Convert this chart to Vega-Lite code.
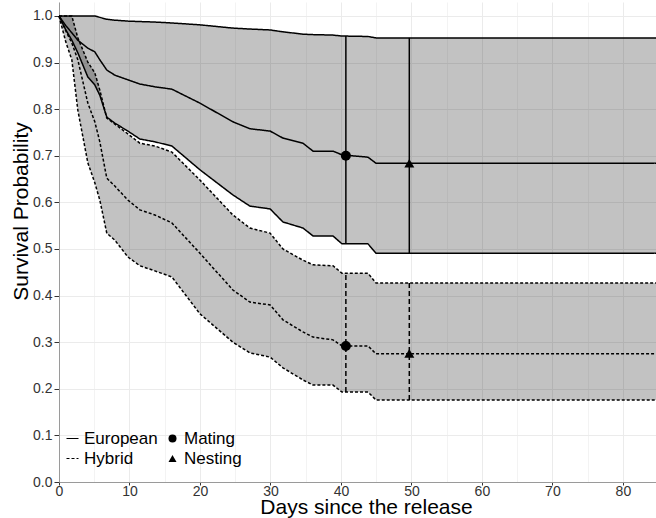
{
  "$schema": "https://vega.github.io/schema/vega-lite/v6.json",
  "width": 597,
  "height": 480,
  "autosize": {"type": "none"},
  "padding": {"left": 59, "top": 2, "right": 0, "bottom": 36},
  "background": "white",
  "config": {
    "view": {"stroke": null},
    "font": "Liberation Sans",
    "axis": {
      "labelFont": "Liberation Sans",
      "titleFont": "Liberation Sans",
      "labelFontSize": 14,
      "labelColor": "#333333",
      "titleFontSize": 21,
      "titleFontWeight": "normal",
      "titleColor": "black",
      "domainColor": "#9a9a9a",
      "tickColor": "#333333",
      "gridColor": "#EBEBEB"
    },
    "legend": {
      "labelFont": "Liberation Sans",
      "labelFontSize": 17,
      "labelColor": "black",
      "padding": 0,
      "rowPadding": 2,
      "labelOffset": 3,
      "title": null
    }
  },
  "datasets": {
    "curves": [
      {"group": "European", "day": 0, "est": 1.0, "lo": 1.0, "hi": 1.0},
      {"group": "European", "day": 0.97, "est": 0.979, "lo": 0.970, "hi": 1.0},
      {"group": "European", "day": 1.82, "est": 0.964, "lo": 0.948, "hi": 1.0},
      {"group": "European", "day": 2.67, "est": 0.948, "lo": 0.921, "hi": 1.0},
      {"group": "European", "day": 4.09, "est": 0.931, "lo": 0.869, "hi": 1.0},
      {"group": "European", "day": 5.08, "est": 0.923, "lo": 0.852, "hi": 1.0},
      {"group": "European", "day": 5.79, "est": 0.906, "lo": 0.830, "hi": 0.997},
      {"group": "European", "day": 6.78, "est": 0.884, "lo": 0.783, "hi": 0.993},
      {"group": "European", "day": 7.92, "est": 0.873, "lo": 0.770, "hi": 0.991},
      {"group": "European", "day": 9.77, "est": 0.863, "lo": 0.753, "hi": 0.989},
      {"group": "European", "day": 11.47, "est": 0.854, "lo": 0.736, "hi": 0.988},
      {"group": "European", "day": 13.6, "est": 0.848, "lo": 0.730, "hi": 0.987},
      {"group": "European", "day": 16.01, "est": 0.843, "lo": 0.721, "hi": 0.985},
      {"group": "European", "day": 19.99, "est": 0.813, "lo": 0.670, "hi": 0.981},
      {"group": "European", "day": 24.67, "est": 0.773, "lo": 0.616, "hi": 0.974},
      {"group": "European", "day": 27.09, "est": 0.758, "lo": 0.592, "hi": 0.972},
      {"group": "European", "day": 29.95, "est": 0.753, "lo": 0.586, "hi": 0.970},
      {"group": "European", "day": 31.77, "est": 0.738, "lo": 0.558, "hi": 0.966},
      {"group": "European", "day": 34.61, "est": 0.727, "lo": 0.545, "hi": 0.961},
      {"group": "European", "day": 36.04, "est": 0.710, "lo": 0.528, "hi": 0.960},
      {"group": "European", "day": 38.87, "est": 0.710, "lo": 0.528, "hi": 0.959},
      {"group": "European", "day": 40.15, "est": 0.702, "lo": 0.511, "hi": 0.957},
      {"group": "European", "day": 43.84, "est": 0.697, "lo": 0.511, "hi": 0.956},
      {"group": "European", "day": 44.97, "est": 0.684, "lo": 0.491, "hi": 0.953},
      {"group": "European", "day": 84.7, "est": 0.684, "lo": 0.491, "hi": 0.953},
      {"group": "Hybrid", "day": 0, "est": 1.0, "lo": 1.0, "hi": 1.0},
      {"group": "Hybrid", "day": 0.97, "est": 0.968, "lo": 0.944, "hi": 1.0},
      {"group": "Hybrid", "day": 1.82, "est": 0.942, "lo": 0.906, "hi": 1.0},
      {"group": "Hybrid", "day": 2.67, "est": 0.906, "lo": 0.798, "hi": 0.953},
      {"group": "Hybrid", "day": 4.09, "est": 0.813, "lo": 0.685, "hi": 0.901},
      {"group": "Hybrid", "day": 5.08, "est": 0.773, "lo": 0.642, "hi": 0.878},
      {"group": "Hybrid", "day": 5.79, "est": 0.730, "lo": 0.605, "hi": 0.841},
      {"group": "Hybrid", "day": 6.78, "est": 0.652, "lo": 0.534, "hi": 0.781},
      {"group": "Hybrid", "day": 7.92, "est": 0.635, "lo": 0.519, "hi": 0.768},
      {"group": "Hybrid", "day": 9.77, "est": 0.605, "lo": 0.483, "hi": 0.747},
      {"group": "Hybrid", "day": 11.47, "est": 0.584, "lo": 0.464, "hi": 0.727},
      {"group": "Hybrid", "day": 13.6, "est": 0.573, "lo": 0.453, "hi": 0.721},
      {"group": "Hybrid", "day": 16.01, "est": 0.556, "lo": 0.440, "hi": 0.708},
      {"group": "Hybrid", "day": 19.99, "est": 0.491, "lo": 0.361, "hi": 0.648},
      {"group": "Hybrid", "day": 24.67, "est": 0.412, "lo": 0.300, "hi": 0.573},
      {"group": "Hybrid", "day": 27.09, "est": 0.386, "lo": 0.277, "hi": 0.545},
      {"group": "Hybrid", "day": 29.95, "est": 0.380, "lo": 0.268, "hi": 0.534},
      {"group": "Hybrid", "day": 31.77, "est": 0.348, "lo": 0.245, "hi": 0.500},
      {"group": "Hybrid", "day": 34.61, "est": 0.322, "lo": 0.219, "hi": 0.476},
      {"group": "Hybrid", "day": 36.04, "est": 0.311, "lo": 0.208, "hi": 0.466},
      {"group": "Hybrid", "day": 38.87, "est": 0.305, "lo": 0.208, "hi": 0.464},
      {"group": "Hybrid", "day": 40.15, "est": 0.292, "lo": 0.193, "hi": 0.448},
      {"group": "Hybrid", "day": 43.84, "est": 0.292, "lo": 0.193, "hi": 0.448},
      {"group": "Hybrid", "day": 44.97, "est": 0.275, "lo": 0.176, "hi": 0.427},
      {"group": "Hybrid", "day": 84.7, "est": 0.275, "lo": 0.176, "hi": 0.427}
    ],
    "events": [
      {"group": "European", "event": "Mating", "day": 40.7, "S": 0.700, "lo": 0.511, "hi": 0.957},
      {"group": "European", "event": "Nesting", "day": 49.7, "S": 0.684, "lo": 0.491, "hi": 0.953},
      {"group": "Hybrid", "event": "Mating", "day": 40.7, "S": 0.292, "lo": 0.193, "hi": 0.448},
      {"group": "Hybrid", "event": "Nesting", "day": 49.7, "S": 0.276, "lo": 0.176, "hi": 0.427}
    ]
  },
  "encoding": {
    "x": {
      "field": "day",
      "type": "quantitative",
      "scale": {"domain": [0, 84.7], "nice": false, "zero": false},
      "axis": {
        "title": "Days since the release",
        "values": [0, 5, 10, 15, 20, 25, 30, 35, 40, 45, 50, 55, 60, 65, 70, 75, 80],
        "labelExpr": "datum.value % 10 === 0 ? datum.label : ''",
        "format": "d",
        "tickSize": 3,
        "labelPadding": -1,
        "tickOpacity": {"condition": {"test": "datum.value % 10 === 0", "value": 1}, "value": 0},
        "gridColor": {"condition": {"test": "datum.value % 10 === 0", "value": "#EBEBEB"}, "value": "#F3F3F3"},
        "titleBaseline": "alphabetic",
        "titleX": 307,
        "titleY": 31.5,
        "labelFlush": false,
        "labelOverlap": false
      }
    }
  },
  "layer": [
    {
      "data": {"name": "curves"},
      "mark": {"type": "area", "fill": "black", "fillOpacity": 0.24, "stroke": null},
      "encoding": {
        "y": {
          "field": "lo",
          "type": "quantitative",
          "stack": null,
          "scale": {"domain": [0, 1.03], "nice": false},
          "axis": {
            "title": "Survival Probability",
            "values": [0, 0.05, 0.1, 0.15, 0.2, 0.25, 0.3, 0.35, 0.4, 0.45, 0.5, 0.55, 0.6, 0.65, 0.7, 0.75, 0.8, 0.85, 0.9, 0.95, 1.0],
            "format": ".1f",
            "labelExpr": "round(datum.value * 100) % 10 === 0 ? datum.label : ''",
            "tickSize": 5,
            "labelPadding": 2,
            "tickOpacity": {"condition": {"test": "round(datum.value * 100) % 10 === 0", "value": 1}, "value": 0},
            "gridColor": {"condition": {"test": "round(datum.value * 100) % 10 === 0", "value": "#EBEBEB"}, "value": "#F3F3F3"},
            "titleBaseline": "alphabetic",
            "titleX": -32,
            "titleY": 209,
            "labelOverlap": false,
            "labelFlush": false
          }
        },
        "y2": {"field": "hi"},
        "detail": {"field": "group"}
      }
    },
    {
      "data": {"name": "curves"},
      "transform": [{"fold": ["est", "lo", "hi"], "as": ["curve", "S"]}],
      "mark": {"type": "line", "color": "black", "strokeWidth": 1.5},
      "encoding": {
        "y": {"field": "S", "type": "quantitative"},
        "detail": {"field": "curve"},
        "strokeDash": {
          "field": "group",
          "type": "nominal",
          "scale": {"domain": ["European", "Hybrid"], "range": [[1, 0], [3, 2]]},
          "legend": {
            "orient": "none",
            "legendX": 5,
            "legendY": 428,
            "symbolSize": 144,
            "symbolStrokeWidth": 1.2,
            "symbolStrokeColor": "black"
          }
        }
      }
    },
    {
      "data": {"name": "events"},
      "transform": [{"filter": "datum.group === 'European'"}],
      "mark": {"type": "rule", "color": "black", "strokeWidth": 1.5},
      "encoding": {
        "y": {"field": "lo", "type": "quantitative"},
        "y2": {"field": "hi"}
      }
    },
    {
      "data": {"name": "events"},
      "transform": [{"filter": "datum.group === 'Hybrid'"}],
      "mark": {"type": "rule", "color": "black", "strokeWidth": 1.5, "strokeDash": [5, 3]},
      "encoding": {
        "y": {"field": "lo", "type": "quantitative"},
        "y2": {"field": "hi"}
      }
    },
    {
      "data": {"name": "events"},
      "mark": {"type": "point", "filled": true, "color": "black", "opacity": 1, "size": 100},
      "encoding": {
        "y": {"field": "S", "type": "quantitative"},
        "shape": {
          "field": "event",
          "type": "nominal",
          "scale": {"domain": ["Mating", "Nesting"], "range": ["circle", "triangle-up"]},
          "legend": {
            "orient": "none",
            "legendX": 105,
            "legendY": 428,
            "symbolSize": 64,
            "symbolFillColor": "black",
            "symbolStrokeWidth": 0,
            "symbolOpacity": 1
          }
        }
      }
    }
  ]
}
